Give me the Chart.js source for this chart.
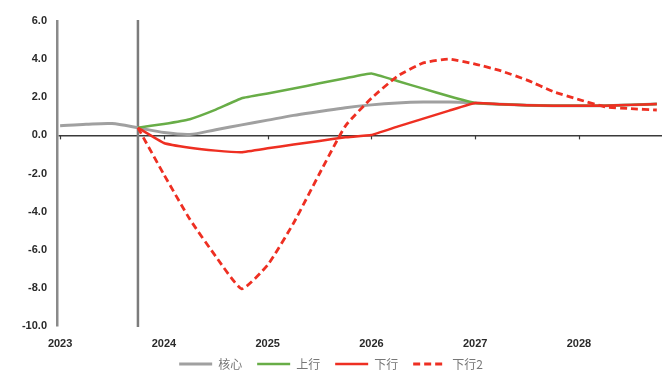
<!DOCTYPE html>
<html>
<head>
<meta charset="utf-8">
<script src="https://cdn.jsdelivr.net/npm/chart.js@4"></script>
<style>
  html, body { margin: 0; padding: 0; background: #fff; }
</style>
</head>
<body>
<canvas id="chart" width="664" height="385"></canvas>
<script>
// quarters 2023Q1 .. 2028Q4
var quarters = ['2023Q1','2023Q2','2023Q3','2023Q4','2024Q1','2024Q2','2024Q3','2024Q4',
                '2025Q1','2025Q2','2025Q3','2025Q4','2026Q1','2026Q2','2026Q3','2026Q4',
                '2027Q1','2027Q2','2027Q3','2027Q4','2028Q1','2028Q2','2028Q3','2028Q4'];
var core      = [0.5, 0.58, 0.62, 0.4, 0.15, 0.05, 0.3, 0.55, 0.8, 1.05, 1.25, 1.45,
                 1.6, 1.7, 1.75, 1.75, 1.7, 1.63, 1.58, 1.56, 1.56, 1.56, 1.6, 1.65];
var upside    = [null, null, null, 0.4, 0.6, 0.85, 1.35, 1.95, 2.2, 2.46, 2.73, 3.0,
                 3.25, 2.85, 2.45, 2.05, 1.7, 1.63, 1.58, 1.56, 1.56, 1.56, 1.6, 1.65];
var downside  = [null, null, null, 0.4, -0.4, -0.65, -0.8, -0.88, -0.68, -0.48, -0.29, -0.1,
                 0.02, 0.46, 0.88, 1.3, 1.7, 1.63, 1.58, 1.56, 1.56, 1.56, 1.6, 1.65];
var downside2 = [null, null, null, 0.4, -2.05, -4.4, -6.35, -8.05, -6.8, -4.6, -2.0, 0.5,
                 1.95, 3.1, 3.8, 4.0, 3.74, 3.38, 2.9, 2.3, 1.88, 1.5, 1.4, 1.33];
var yTickValues = [-10, -8, -6, -4, -2, 0, 2, 4, 6];
var xTickYears = [2023, 2024, 2025, 2026, 2027, 2028];
var markerQuarter = '2023Q4';

function qToYear(q) {
  return parseInt(q.slice(0, 4), 10) + (parseInt(q.slice(5), 10) - 1) / 4;
}
function pts(vals) {
  return quarters.map(function (q, i) { return { x: qToYear(q), y: vals[i] }; });
}

var RED = '#ee2f22';

// vertical marker line + small year ticks on the zero line
var extras = {
  id: 'extras',
  beforeDatasetsDraw: function (chart) {
    var ctx = chart.ctx, a = chart.chartArea;
    var xs = chart.scales.x, ys = chart.scales.y;
    var y0 = ys.getPixelForValue(0);
    ctx.save();
    ctx.strokeStyle = '#3a3a3a';
    ctx.lineWidth = 1.2;
    xTickYears.forEach(function (yr) {
      var px = Math.round(xs.getPixelForValue(yr)) + 0.5;
      ctx.beginPath();
      ctx.moveTo(px, y0);
      ctx.lineTo(px, y0 + 4);
      ctx.stroke();
    });
    var mx = xs.getPixelForValue(qToYear(markerQuarter));
    ctx.strokeStyle = '#7c7c7c';
    ctx.lineWidth = 2.5;
    ctx.beginPath();
    ctx.moveTo(mx, a.top - 1);
    ctx.lineTo(mx, a.bottom + 1);
    ctx.stroke();
    ctx.restore();
  }
};

var ctx = document.getElementById('chart');
var myChart = new Chart(ctx, {
  type: 'line',
  data: {
    datasets: [
      { label: '核心', data: pts(core), borderColor: '#a0a0a0', borderWidth: 3, order: 3, tension: 0.3 },
      { label: '上行', data: pts(upside), borderColor: '#68ad47', borderWidth: 2.5, order: 2, tension: 0.1 },
      { label: '下行', data: pts(downside), borderColor: RED, borderWidth: 2.5, order: 1, tension: 0.1 },
      { label: '下行2', data: pts(downside2), borderColor: RED, borderWidth: 2.8, borderDash: [7, 4], order: 0, tension: 0.15 }
    ]
  },
  options: {
    responsive: false,
    animation: false,
    elements: { point: { radius: 0 } },
    layout: { padding: { top: 21, right: 2, bottom: 5, left: 0 } },
    plugins: {
      tooltip: { enabled: false },
      legend: {
        position: 'bottom',
        labels: {
          usePointStyle: true,
          pointStyle: 'line',
          pointStyleWidth: 33,
          boxWidth: 33,
          boxHeight: 10,
          padding: 15,
          color: '#777777',
          font: { family: "'Noto Sans CJK SC', sans-serif", size: 12 },
          sort: function (a, b) { return a.datasetIndex - b.datasetIndex; },
          generateLabels: function (chart) {
            var items = Chart.defaults.plugins.legend.labels.generateLabels(chart);
            items.forEach(function (it) {
              var ds = chart.data.datasets[it.datasetIndex];
              it.lineDash = ds.borderDash || [];
              it.strokeStyle = ds.borderColor;
              it.lineWidth = ds.borderWidth;
            });
            return items;
          }
        }
      }
    },
    scales: {
      x: {
        type: 'linear',
        min: 2022.97,
        max: 2028.8,
        grid: { display: false, drawTicks: false },
        border: { display: false },
        afterBuildTicks: function (s) { s.ticks = xTickYears.map(function (v) { return { value: v }; }); },
        afterFit: function (s) {
          s.height = 17;
          // labels hang a little below the thin axis box, don't clip them
          s._computeLabelArea = function () { return undefined; };
        },
        ticks: {
          padding: 11,
          color: '#2a2a2a',
          font: { family: "'Liberation Sans', sans-serif", size: 11, weight: 'bold' },
          callback: function (v) { return String(v); }
        }
      },
      y: {
        min: -10,
        max: 6,
        afterBuildTicks: function (s) { s.ticks = yTickValues.map(function (v) { return { value: v }; }); },
        afterFit: function (s) { s.width = 57; },
        border: { display: true, color: '#8a8a8a', width: 2.5 },
        grid: {
          drawTicks: false,
          lineWidth: 1.5,
          color: function (c) { return c.tick && c.tick.value === 0 ? '#3a3a3a' : 'rgba(0,0,0,0)'; }
        },
        ticks: {
          padding: 10,
          color: '#2a2a2a',
          font: { family: "'Liberation Sans', sans-serif", size: 11, weight: 'bold' },
          callback: function (v) { return Number(v).toFixed(1); }
        }
      }
    }
  },
  plugins: [extras]
});
</script>
</body>
</html>
